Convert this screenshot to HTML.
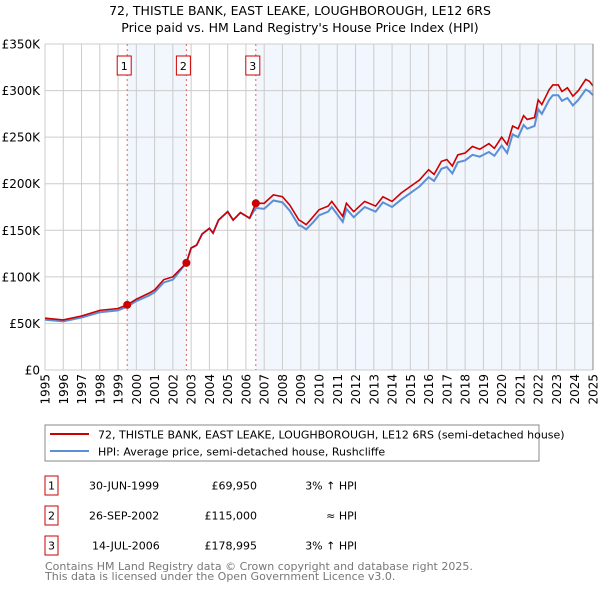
<!DOCTYPE html>
<html><head><meta charset="utf-8"><style>
body{margin:0;background:#fff;width:600px;height:590px;overflow:hidden;font-family:"DejaVu Sans","Liberation Sans",sans-serif}
svg text{font-family:"DejaVu Sans","Liberation Sans",sans-serif}
</style></head><body>
<svg id="chart" width="600" height="590" xmlns="http://www.w3.org/2000/svg">
<text x="300" y="15" text-anchor="middle" font-size="12.5">72, THISTLE BANK, EAST LEAKE, LOUGHBOROUGH, LE12 6RS</text>
<text x="300" y="32" text-anchor="middle" font-size="12.5">Price paid vs. HM Land Registry's House Price Index (HPI)</text>
<g id="plot"></g>
<g>
<rect x="45" y="425" width="494" height="36" fill="#fff" stroke="#888"/>
<line x1="50" y1="434" x2="89" y2="434" stroke="#cc0000" stroke-width="2"/>
<text x="98" y="438.5" font-size="11">72, THISTLE BANK, EAST LEAKE, LOUGHBOROUGH, LE12 6RS (semi-detached house)</text>
<line x1="50" y1="451" x2="89" y2="451" stroke="#5b8fd6" stroke-width="2"/>
<text x="98" y="455.5" font-size="11">HPI: Average price, semi-detached house, Rushcliffe</text>
</g>
<g font-size="11">
<rect x="45" y="476" width="13" height="19" fill="#fff" stroke="#cc0000"/><text x="51.5" y="489.5" text-anchor="middle">1</text>
<text x="89" y="489.5">30-JUN-1999</text><text x="257" y="489.5" text-anchor="end">£69,950</text><text x="357" y="489.5" text-anchor="end">3% ↑ HPI</text>
<rect x="45" y="506" width="13" height="19" fill="#fff" stroke="#cc0000"/><text x="51.5" y="519.5" text-anchor="middle">2</text>
<text x="89" y="519.5">26-SEP-2002</text><text x="257" y="519.5" text-anchor="end">£115,000</text><text x="357" y="519.5" text-anchor="end">≈ HPI</text>
<rect x="45" y="536" width="13" height="19" fill="#fff" stroke="#cc0000"/><text x="51.5" y="549.5" text-anchor="middle">3</text>
<text x="92" y="549.5">14-JUL-2006</text><text x="257" y="549.5" text-anchor="end">£178,995</text><text x="357" y="549.5" text-anchor="end">3% ↑ HPI</text>
</g>
<text x="45" y="570" font-size="11" fill="#777">Contains HM Land Registry data © Crown copyright and database right 2025.</text>
<text x="45" y="580" font-size="11" fill="#777">This data is licensed under the Open Government Licence v3.0.</text>
</svg>
<script>
const years=[1995,1996,1997,1998,1999,1999.5,2000,2000.7,2001,2001.5,2002,2002.74,2003,2003.3,2003.6,2004,2004.2,2004.5,2005,2005.3,2005.7,2006.2,2006.54,2007,2007.5,2008,2008.4,2008.9,2009,2009.3,2009.7,2010,2010.5,2010.7,2011.3,2011.5,2011.9,2012.5,2013.1,2013.5,2014,2014.5,2015,2015.5,2016,2016.3,2016.7,2017,2017.3,2017.6,2018,2018.4,2018.8,2019.3,2019.6,2020,2020.3,2020.6,2020.9,2021.2,2021.4,2021.8,2022,2022.2,2022.6,2022.8,2023.1,2023.3,2023.6,2023.9,2024.2,2024.6,2024.8,2025];
const priceK=[55.6,53.8,58,64,66,70,76,82.5,86,97,100,115,131,134,146,152,147,161,170,161,169,163,179,179,188,186,177,161,160,156,165,172,176,181,165,179,170,181,176,186,181,190,197,204,215,210,224,226,219,231,233,240,237,243,238,250,242,262,259,273,269,271,290,285,301,306,306,299,303,294,300,312,310,305];
const hpiK=[54,52.2,56.3,62,64,68,74,80,83.5,94,97,115,131,134,146,152,147,161,170,161,169,163,174,173,182,180,171,155,155,151,159,166,170,175,159,173,164,175,170,180,175,183,190,197,207,203,216,218,211,223,225,231,229,234,230,241,233,253,250,263,259,262,280,275,290,295,295,289,292,284,290,301,299,295];
const saleYears=[1999.5,2002.74,2006.54];
const salePriceK=[69.95,115,178.995];
const saleLabels=["1","2","3"];
const yTicks=[0,50,100,150,200,250,300,350];
const yTickLabels=["£0","£50K","£100K","£150K","£200K","£250K","£300K","£350K"];
const xTicks=[1995,1996,1997,1998,1999,2000,2001,2002,2003,2004,2005,2006,2007,2008,2009,2010,2011,2012,2013,2014,2015,2016,2017,2018,2019,2020,2021,2022,2023,2024,2025];
const X0=45,X1=593,Y0=370,Y1=44;
const xs=y=>X0+(y-1995)/30*(X1-X0);
const ys=v=>Y0-v/350*(Y0-Y1);
const NS="http://www.w3.org/2000/svg";
const g=document.getElementById('plot');
function mk(t,a){const e=document.createElementNS(NS,t);for(const k in a)e.setAttribute(k,a[k]);g.appendChild(e);return e;}
let e;
e=mk('rect',{x:X0,y:Y1,width:X1-X0,height:Y0-Y1,fill:'#fff'});


e=mk('rect',{x:xs(saleYears[0]),y:Y1,width:xs(saleYears[1])-xs(saleYears[0]),height:Y0-Y1,fill:'#f2f6fd'});


e=mk('rect',{x:xs(saleYears[2]),y:Y1,width:X1-xs(saleYears[2]),height:Y0-Y1,fill:'#f2f6fd'});


xTicks.forEach((t,i)=>{
 e=mk('line',{x1:xs(t),x2:xs(t),y1:Y1,y2:Y0,stroke:'#ccc','stroke-width':1});
 
 
 const tx=mk('text',{x:0,y:0,'font-size':12,'text-anchor':'end',transform:`translate(${xs(t)+4.5},374) rotate(-90)`});
 tx.textContent=String(t);
 
 
});
yTicks.forEach((t,i)=>{
 e=mk('line',{x1:X0,x2:X1,y1:ys(t),y2:ys(t),stroke:'#ccc','stroke-width':1});
 
 
 const tx=mk('text',{x:40,y:ys(t)+4.5,'font-size':12,'text-anchor':'end'});
 tx.textContent=yTickLabels[i];
 
 
});
saleYears.forEach((s,i)=>{
 e=mk('line',{x1:xs(s),x2:xs(s),y1:Y1,y2:Y0,stroke:'#e06666','stroke-width':1,'stroke-dasharray':'2,3'});
 
 
 e=mk('rect',{x:xs(s)-10,y:56,width:14,height:19,fill:'#fff',stroke:'#cc0000'});
 
 
 const tx=mk('text',{x:xs(s)-3,y:70,'font-size':11,'text-anchor':'middle'});
 tx.textContent=saleLabels[i];
 
 
});
e=mk('polyline',{points:years.map((y,i)=>xs(y)+','+ys(hpiK[i])).join(' '),fill:'none',stroke:'#5b8fd6','stroke-width':2});


e=mk('polyline',{points:years.map((y,i)=>xs(y)+','+ys(priceK[i])).join(' '),fill:'none',stroke:'#cc0000','stroke-width':1.6});


saleYears.forEach((s,i)=>{
 e=mk('circle',{cx:xs(s),cy:ys(salePriceK[i]),r:4,fill:'#cc0000'});
 
 
});
e=mk('line',{x1:X1,x2:X1,y1:Y1,y2:Y0,stroke:'#888'});


</script>
</body></html>
